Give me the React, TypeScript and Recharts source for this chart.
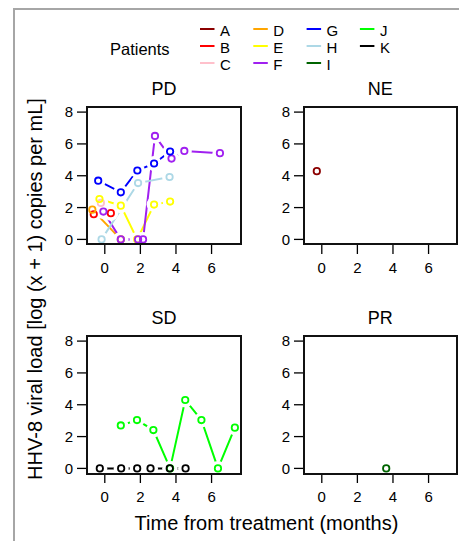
import React from "react";
import { LineChart, Line, XAxis, YAxis } from "recharts";

const FONT = '"Liberation Sans", Arial, Helvetica, sans-serif';

const patients = ["A", "B", "C", "D", "E", "F", "G", "H", "I", "J", "K"];
const colors = [
  "#8B0000", "#FF0000", "#FFC0CB", "#FFA500", "#FFFF00", "#A020F0",
  "#0000FF", "#ADD8E6", "#006400", "#00FF00", "#000000",
];

// time from treatment (months) and log(x + 1) viral load, one pair per patient
const timesA = [-0.28];
const loadA = [4.29];
const timesB = [-0.62, 0.34];
const loadB = [1.58, 1.65];
const timesC = [-0.22];
const loadC = [2.29];
const timesD = [-0.7, 0.9];
const loadD = [1.87, 0];
const timesE = [-0.3, 0.9, 1.82, 2.77, 3.67];
const loadE = [2.54, 2.12, 0, 2.19, 2.38];
const timesF = [-0.08, 0.9, 1.87, 2.15, 2.82, 3.75, 4.47, 6.47];
const loadF = [1.75, 0, 0, 0, 6.5, 5.08, 5.56, 5.42];
const timesG = [-0.37, 0.9, 1.83, 2.77, 3.67];
const loadG = [3.69, 2.96, 4.33, 4.77, 5.52];
const timesH = [-0.18, 1.87, 3.64];
const loadH = [0, 3.54, 3.92];
const timesI = [3.62];
const loadI = [0];
const timesJ = [0.9, 1.81, 2.73, 3.67, 4.52, 5.43, 6.36, 7.31];
const loadJ = [2.7, 3.04, 2.41, 0, 4.3, 3.04, 0, 2.56];
const timesK = [-0.28, 0.92, 1.82, 2.57, 3.65, 4.54];
const loadK = [0, 0, 0, 0, 0, 0];

const times: Record<string, number[]> = {
  A: timesA, B: timesB, C: timesC, D: timesD, E: timesE, F: timesF,
  G: timesG, H: timesH, I: timesI, J: timesJ, K: timesK,
};
const loads: Record<string, number[]> = {
  A: loadA, B: loadB, C: loadC, D: loadD, E: loadE, F: loadF,
  G: loadG, H: loadH, I: loadI, J: loadJ, K: loadK,
};

const panelTitles = ["PD", "NE", "SD", "PR"];
const panelMembers = [
  ["B", "C", "D", "E", "F", "G", "H"],
  ["A"],
  ["J", "K"],
  ["I"],
];

const X_TICKS = [0, 2, 4, 6];
const Y_TICKS = [0, 2, 4, 6, 8];
const X_DOMAIN: [number, number] = [-1.0, 7.62];
const Y_DOMAIN: [number, number] = [-0.32, 8.32];

const PW = 153.4;
const PH = 137.5;
const COL_LEFT = [87.3, 303.5];
const ROW_TOP = [106.5, 336];

const HaloDot = (p: any) => {
  if (p.cx == null || p.cy == null) return <g />;
  return <circle cx={p.cx} cy={p.cy} r={7.5} fill="#fff" stroke="none" />;
};

function Panel({ idx }: { idx: number }) {
  const left = COL_LEFT[idx % 2];
  const top = ROW_TOP[Math.floor(idx / 2)];
  const series = panelMembers[idx].map((id) => ({
    id,
    color: colors[patients.indexOf(id)],
    data: times[id].map((t, i) => ({ t, v: loads[id][i] })),
  }));
  const tick = { fill: "#000", fontSize: 15, fontFamily: FONT };
  return (
    <div style={{ position: "absolute", left: left - 50, top: top - 5 }}>
      <LineChart width={PW + 55} height={PH + 40} margin={{ top: 5, right: 5, bottom: 0, left: 0 }}>
        <XAxis
          type="number"
          dataKey="t"
          domain={X_DOMAIN}
          ticks={X_TICKS}
          interval={0}
          allowDataOverflow
          height={35}
          tickSize={9.5}
          tickMargin={8}
          axisLine={false}
          tickLine={{ stroke: "#000", strokeWidth: 1.3 }}
          tick={tick}
        />
        <YAxis
          type="number"
          domain={Y_DOMAIN}
          ticks={Y_TICKS}
          interval={0}
          allowDataOverflow
          width={50}
          tickSize={10}
          tickMargin={4}
          axisLine={false}
          tickLine={{ stroke: "#000", strokeWidth: 1.3 }}
          tick={tick}
        />
        {series.map((s) => (
          <Line
            key={"l" + s.id}
            data={s.data}
            dataKey="v"
            type="linear"
            stroke={s.color}
            strokeWidth={2}
            dot={false}
            activeDot={false}
            isAnimationActive={false}
          />
        ))}
        {series.map((s) => (
          <Line
            key={"h" + s.id}
            data={s.data}
            dataKey="v"
            stroke="none"
            dot={HaloDot}
            activeDot={false}
            isAnimationActive={false}
          />
        ))}
        {series.map((s) => (
          <Line
            key={"c" + s.id}
            data={s.data}
            dataKey="v"
            stroke="none"
            dot={(p: any) =>
              p.cx == null ? <g key={p.key} /> : (
                <circle key={p.key} cx={p.cx} cy={p.cy} r={3.2} fill="none" stroke={s.color} strokeWidth={1.8} />
              )
            }
            activeDot={false}
            isAnimationActive={false}
          />
        ))}
      </LineChart>
      <div
        style={{
          position: "absolute",
          left: 49,
          top: 4,
          width: PW + 2,
          height: PH + 2,
          boxSizing: "border-box",
          border: "2px solid #111",
          pointerEvents: "none",
        }}
      />
    </div>
  );
}

export default function App() {
  return (
    <div style={{ position: "absolute", left: 0, top: 0, width: 459, height: 541, overflow: "hidden", background: "#fff", fontFamily: FONT }}>
      <div
        style={{
          position: "absolute",
          left: 13,
          top: 8,
          width: 446,
          height: 533,
          boxSizing: "border-box",
          borderTop: "2px solid #a6a6a6",
          borderLeft: "2px solid #a6a6a6",
        }}
      />
      {panelTitles.map((_, i) => (
        <Panel key={i} idx={i} />
      ))}
      <svg width={459} height={541} style={{ position: "absolute", left: 0, top: 0, pointerEvents: "none" }}>
        {panelTitles.map((title, i) => (
          <text
            key={title}
            x={COL_LEFT[i % 2] + PW / 2}
            y={Math.floor(i / 2) === 0 ? 95 : 323.5}
            textAnchor="middle"
            fontSize={18}
            fontFamily={FONT}
            fill="#000"
          >
            {title}
          </text>
        ))}
        <text x={266.5} y={530} textAnchor="middle" fontSize={20} fontFamily={FONT} fill="#000">
          Time from treatment (months)
        </text>
        <text
          x={0}
          y={0}
          transform="translate(42,289) rotate(-90)"
          textAnchor="middle"
          fontSize={20}
          fontFamily={FONT}
          fill="#000"
        >
          HHV-8 viral load [log (x + 1) copies per mL]
        </text>
        <text x={110} y={55} fontSize={16.5} fontFamily={FONT} fill="#000">
          Patients
        </text>
        {patients.map((p, i) => {
          const col = Math.floor(i / 3);
          const row = i % 3;
          const x = 200 + col * 53.3;
          const y = 36 + row * 17;
          return (
            <g key={p}>
              <line x1={x} x2={x + 14.5} y1={y - 7} y2={y - 7} stroke={colors[i]} strokeWidth={2} />
              <text x={x + 20} y={y} fontSize={15} fontFamily={FONT} fill="#000">
                {p}
              </text>
            </g>
          );
        })}
      </svg>
    </div>
  );
}
